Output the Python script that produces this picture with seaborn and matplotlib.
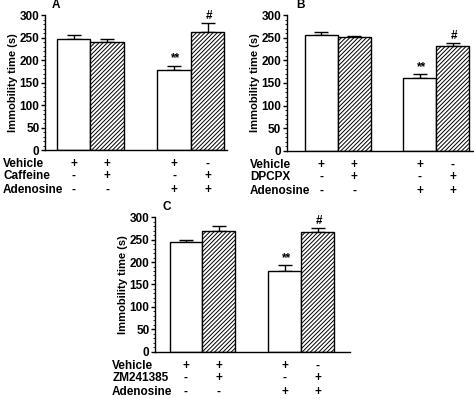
import pandas as pd
import seaborn as sns
import matplotlib.pyplot as plt
from matplotlib.ticker import MultipleLocator

# Data
groups = ['g1', 'g2', 'gap', 'g3', 'g4']
means_a = [246, 240, 178, 262]
errs_a = [10, 8, 10, 20]
means_b = [256, 252, 160, 231]
errs_b = [6, 3, 10, 7]
means_c = [245, 270, 180, 266]
errs_c = [4, 10, 13, 10]

vehicle = ['+', '+', '+', '-']
adenosine = ['-', '-', '+', '+']
drug = ['-', '+', '-', '+']
drug_names = ['Caffeine', 'DPCPX', 'ZM241385']
panel_letters = ['A', 'B', 'C']
marks = ['', '', '**', '#']

sns.set_style('ticks')
plt.rcParams['font.family'] = ['Liberation Sans', 'DejaVu Sans']
plt.rcParams['font.weight'] = 'bold'
plt.rcParams['text.color'] = 'black'
plt.rcParams['axes.labelcolor'] = 'black'
plt.rcParams['axes.edgecolor'] = 'black'
plt.rcParams['xtick.color'] = 'black'
plt.rcParams['ytick.color'] = 'black'
plt.rcParams['hatch.linewidth'] = 0.7

fig = plt.figure(figsize=(4.74, 3.99), dpi=100)
# axes positions (figure fraction), x limits, row label x, letter position
specs = [
    ([0.095, 0.624, 0.384, 0.338], (-0.85, 4.58), -2.1, (-0.65, 1.03)),
    ([0.605, 0.622, 0.393, 0.340], (-1.05, 4.62), -2.17, (-0.75, 1.03)),
    ([0.327, 0.118, 0.411, 0.338], (-0.94, 4.97), -2.24, (-0.7, 1.03)),
]
data = [(means_a, errs_a), (means_b, errs_b), (means_c, errs_c)]

for i, (pos, xl, lab_x, let) in enumerate(specs):
    means, errs = data[i]
    ax = fig.add_axes(pos)
    df = pd.DataFrame({'group': ['g1', 'g2', 'g3', 'g4'], 'value': means})
    sns.barplot(data=df, x='group', y='value', order=groups, width=1.0,
                color='white', edgecolor='black', linewidth=1.0,
                errorbar=None, ax=ax, zorder=2)
    xs = [0, 1, 3, 4]
    for j, p in enumerate(ax.patches):
        if j % 2 == 1:
            p.set_hatch('////////')
            p.set_facecolor('white')
    ax.errorbar(xs, means, yerr=[[0] * 4, errs], fmt='none', ecolor='black',
                elinewidth=1.0, capsize=5, capthick=1.0, zorder=1)
    for j in range(4):
        if marks[j]:
            ax.text(xs[j] + 0.05, means[j] + errs[j] + 2, marks[j],
                    ha='center', va='bottom', fontsize=8.5, fontweight='bold')
    ax.set_xlim(*xl)
    ax.set_ylim(0, 300)
    ax.yaxis.set_major_locator(MultipleLocator(50))
    ax.yaxis.set_minor_locator(MultipleLocator(10))
    ax.tick_params(axis='y', labelsize=8.5, length=3, width=1, pad=1)
    ax.tick_params(axis='y', which='minor', length=1.5)
    ax.set_xticks([])
    ax.set_xlabel('')
    ax.set_ylabel('Immobility time (s)', fontsize=8, fontweight='bold', labelpad=1)
    for lbl in ax.get_yticklabels():
        lbl.set_fontweight('bold')
    sns.despine(ax=ax)
    ax.spines['left'].set_linewidth(1.0)
    ax.spines['bottom'].set_linewidth(1.0)

    ax.text(let[0], let[1], panel_letters[i], transform=ax.get_xaxis_transform(),
            fontsize=8.5, fontweight='bold', va='bottom')
    tr = ax.get_xaxis_transform()
    rows = [('Vehicle', vehicle, -0.104), (drug_names[i], drug, -0.19),
            ('Adenosine', adenosine, -0.296)]
    for name, signs, yy in rows:
        ax.text(lab_x, yy, name, transform=tr, ha='left', va='center',
                fontsize=8.5, fontweight='bold', clip_on=False)
        for x, s in zip(xs, signs):
            ax.text(x, yy, s, transform=tr, ha='center', va='center',
                    fontsize=8.5, fontweight='bold', clip_on=False)

fig.savefig('out.png', dpi=100)
